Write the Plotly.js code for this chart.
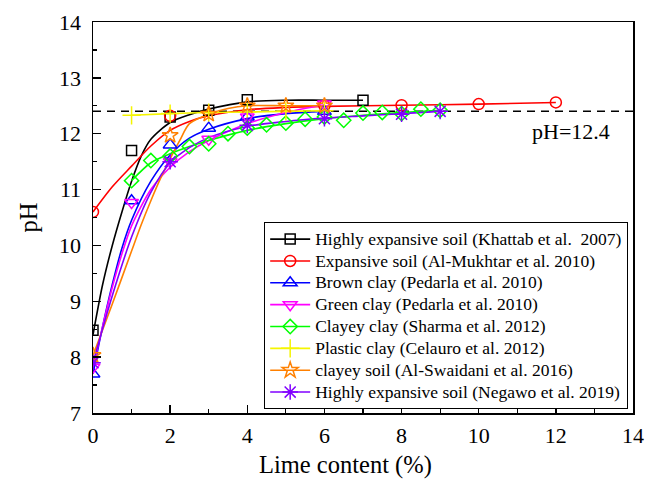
<!DOCTYPE html>
<html>
<head>
<meta charset="utf-8">
<script src="https://cdn.plot.ly/plotly-3.0.1.min.js"></script>
<style>html,body{margin:0;padding:0;background:#fff;}#chart{width:646px;height:481px;}</style>
</head>
<body>
<div id="chart"></div>
<script>
const seriesNames = [
  'Highly expansive soil (Khattab et al.  2007)',
  'Expansive soil (Al-Mukhtar et al. 2010)',
  'Brown clay (Pedarla et al. 2010)',
  'Green clay (Pedarla et al. 2010)',
  'Clayey clay (Sharma et al. 2012)',
  'Plastic clay (Celauro et al. 2012)',
  'clayey soil (Al-Swaidani et al. 2016)',
  'Highly expansive soil (Negawo et al. 2019)'
];
const xTitle = 'Lime content (%)';
const yTitle = 'pH';

// Measured points (markers)
const khattabX = [0, 1, 2, 3, 4, 7];
const khattabY = [8.48, 11.70, 12.30, 12.42, 12.61, 12.60];
const mukhtarX = [0, 2, 6, 8, 10, 12];
const mukhtarY = [10.60, 12.32, 12.50, 12.51, 12.53, 12.56];
const brownX = [0, 1, 2, 3, 4, 6];
const brownY = [7.70, 10.80, 11.80, 12.10, 12.30, 12.40];
const greenX = [0, 1, 2, 3, 4, 6];
const greenY = [7.82, 10.77, 11.50, 11.90, 12.30, 12.53];
const sharmaX = [1, 1.5, 2, 2.5, 3, 3.5, 4, 4.5, 5, 5.5, 6, 6.5, 7, 7.5, 8, 8.5, 9];
const sharmaY = [11.16, 11.52, 11.60, 11.77, 11.82, 12.00, 12.10, 12.16, 12.19, 12.26, 12.30, 12.24, 12.37, 12.38, 12.36, 12.44, 12.42];
const celauroX = [1, 2, 3, 4, 5, 6];
const celauroY = [12.33, 12.36, 12.38, 12.39, 12.40, 12.41];
const swaidaniX = [0, 2, 3, 4, 5, 6];
const swaidaniY = [8.03, 11.97, 12.35, 12.50, 12.50, 12.50];
const negawoX = [0, 2, 4, 6, 8, 9];
const negawoY = [7.90, 11.50, 12.15, 12.27, 12.35, 12.40];

// Fitted curves
const khattabFitX = [0, 0.25, 0.5, 0.75, 1, 1.25, 1.5, 2, 2.5, 3, 4, 5, 6, 7];
const khattabFitY = [8.40, 9.30, 10.00, 10.60, 11.15, 11.60, 11.90, 12.20, 12.34, 12.44, 12.57, 12.60, 12.60, 12.60];
const mukhtarFitX = [0, 0.5, 1, 1.5, 2, 2.5, 3, 4, 5, 6, 8, 10, 12];
const mukhtarFitY = [10.60, 11.05, 11.42, 11.78, 12.06, 12.22, 12.32, 12.43, 12.47, 12.49, 12.51, 12.53, 12.56];
const brownFitX = [0, 0.25, 0.5, 0.75, 1, 1.5, 2, 2.5, 3, 4, 5, 6];
const brownFitY = [7.70, 8.55, 9.30, 9.95, 10.45, 11.15, 11.62, 11.92, 12.08, 12.27, 12.36, 12.40];
const greenFitX = [0, 0.25, 0.5, 0.75, 1, 1.5, 2, 2.5, 3, 4, 5, 6];
const greenFitY = [7.82, 8.55, 9.25, 9.85, 10.35, 11.00, 11.40, 11.68, 11.88, 12.18, 12.38, 12.52];
const sharmaFitX = [1, 1.5, 2, 2.5, 3, 4, 5, 6, 7, 8, 9];
const sharmaFitY = [11.16, 11.48, 11.64, 11.77, 11.88, 12.06, 12.18, 12.27, 12.33, 12.38, 12.42];
const celauroFitX = [1, 2, 3, 4, 5, 6];
const celauroFitY = [12.33, 12.36, 12.38, 12.39, 12.40, 12.41];
const swaidaniFitX = [0, 0.5, 1, 1.25, 1.5, 1.75, 2, 2.25, 2.5, 3, 3.5, 4, 5, 6];
const swaidaniFitY = [8.03, 8.95, 9.90, 10.37, 10.80, 11.20, 11.55, 11.88, 12.18, 12.35, 12.45, 12.50, 12.50, 12.50];
const negawoFitX = [0, 0.5, 1, 1.5, 2, 2.5, 3, 4, 5, 6, 7, 8, 9];
const negawoFitY = [7.90, 9.10, 10.15, 10.95, 11.48, 11.75, 11.93, 12.13, 12.22, 12.28, 12.32, 12.36, 12.40];

const refLineX = [0, 14];
const refLineY = [12.4, 12.4];
const refLabel = 'pH=12.4';

const colors = ['#000000', '#ff0000', '#0000ff', '#ff00ff', '#00ff00', '#f5f500', '#ff8000', '#8000ff'];
const symbols = ['square-open', 'circle-open', 'triangle-up-open', 'triangle-down-open', 'diamond-open', 'cross-thin-open', 'star-open', 'asterisk-open'];
const sizes = [10, 11, 12, 12, 11, 13, 12, 13];

const pts = [
  [khattabX, khattabY, khattabFitX, khattabFitY],
  [mukhtarX, mukhtarY, mukhtarFitX, mukhtarFitY],
  [brownX, brownY, brownFitX, brownFitY],
  [greenX, greenY, greenFitX, greenFitY],
  [sharmaX, sharmaY, sharmaFitX, sharmaFitY],
  [celauroX, celauroY, celauroFitX, celauroFitY],
  [swaidaniX, swaidaniY, swaidaniFitX, swaidaniFitY],
  [negawoX, negawoY, negawoFitX, negawoFitY]
];

const traces = [];
traces.push({x: refLineX, y: refLineY, mode: 'lines', showlegend: false, hoverinfo: 'skip',
  line: {color: '#000', width: 1.5, dash: '8px,6px'}});
pts.forEach((p, i) => {
  traces.push({x: p[2], y: p[3], mode: 'lines', showlegend: false,
    line: {color: colors[i], width: 1.6, shape: 'spline', smoothing: 0.8}});
});
pts.forEach((p, i) => {
  traces.push({x: p[0], y: p[1], mode: 'markers', showlegend: false,
    marker: {symbol: symbols[i], color: colors[i], size: sizes[i], line: {width: 1.5, color: colors[i]}}});
});
seriesNames.forEach((n, i) => {
  traces.push({x: [null], y: [null], mode: 'lines+markers',
    name: '<span style="font-size:17.5px">' + n + '</span>',
    line: {color: colors[i], width: 1.6},
    marker: {symbol: symbols[i], color: colors[i], size: sizes[i], line: {width: 1.5, color: colors[i]}}});
});

const font = "'Liberation Serif', 'Times New Roman', Times, 'DejaVu Serif', serif";
const layout = {
  width: 646, height: 481,
  margin: {l: 93, r: 13, t: 22, b: 68},
  paper_bgcolor: '#fff', plot_bgcolor: '#fff',
  font: {family: font, color: '#000', size: 22},
  showlegend: true,
  xaxis: {
    range: [0, 14], dtick: 2, tick0: 0,
    ticks: 'inside', ticklen: 8, tickwidth: 1.5, tickcolor: '#000',
    minor: {dtick: 1, ticks: 'inside', ticklen: 4, tickwidth: 1.2, tickcolor: '#000'},
    showline: true, linecolor: '#000', linewidth: 1.5, mirror: true,
    showgrid: false, zeroline: false,
    tickfont: {family: font, size: 22, color: '#000'},
    ticklabelstandoff: 2
  },
  yaxis: {
    range: [7, 14], dtick: 1, tick0: 7,
    ticks: 'inside', ticklen: 8, tickwidth: 1.5, tickcolor: '#000',
    minor: {dtick: 0.5, ticks: 'inside', ticklen: 4, tickwidth: 1.2, tickcolor: '#000'},
    showline: true, linecolor: '#000', linewidth: 1.5, mirror: true,
    showgrid: false, zeroline: false,
    tickfont: {family: font, size: 22, color: '#000'},
    ticklabelstandoff: 6,
    title: {text: yTitle, font: {family: font, size: 24.5, color: '#000'}, standoff: 14}
  },
  legend: {
    x: 0.317, y: 0.488, xanchor: 'left', yanchor: 'top',
    bgcolor: '#fff', bordercolor: '#000', borderwidth: 1,
    font: {family: font, size: 14.5, color: '#000'},
    tracegroupgap: 0, itemwidth: 40
  },
  annotations: [{
    x: 11.32, y: 12.04, xref: 'x', yref: 'y', xanchor: 'left', yanchor: 'middle',
    text: refLabel, showarrow: false, font: {family: font, size: 22, color: '#000'}
  }, {
    x: 0.4685, y: -0.133, xref: 'paper', yref: 'paper', xanchor: 'center', yanchor: 'middle',
    text: xTitle, showarrow: false, font: {family: font, size: 24.5, color: '#000'}
  }]
};

Plotly.newPlot('chart', traces, layout, {displayModeBar: false, staticPlot: true});
</script>
</body>
</html>
